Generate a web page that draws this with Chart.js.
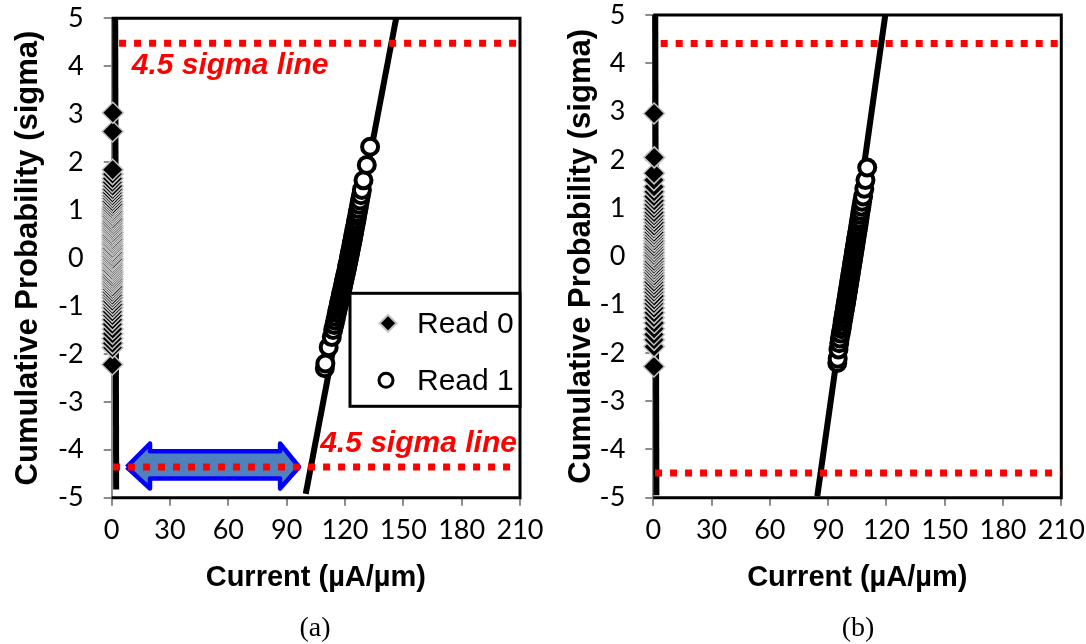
<!DOCTYPE html>
<html><head><meta charset="utf-8">
<script src="https://cdn.jsdelivr.net/npm/chart.js@4/dist/chart.umd.min.js"></script>
<style>
html,body{margin:0;padding:0;background:#fff;}
#wrap{position:relative;width:1086px;height:644px;overflow:hidden;background:#fff;}
canvas{position:absolute;top:0;}
#ca{left:0px;} #cb{left:543px;}
.cap{position:absolute;font-family:"Liberation Serif","Times New Roman",serif;font-size:28px;color:#000;transform:translateX(-50%);line-height:32px;}
</style></head>
<body><div id="wrap">
<canvas id="ca" width="543" height="644"></canvas>
<canvas id="cb" width="543" height="644"></canvas>
<div class="cap" style="left:315px;top:611px">(a)</div>
<div class="cap" style="left:858px;top:611px">(b)</div>
</div>
<script>
// ---------- tick labels ----------
const xTicks = [0, 30, 60, 90, 120, 150, 180, 210];
const yTicks = [-5, -4, -3, -2, -1, 0, 1, 2, 3, 4, 5];

// ---------- panel (a) ----------
const read0SigmaA = [-2.22, -1.87, -1.78, -1.68, -1.58, -1.48, -1.38, -1.29, -1.20, -1.12,
  -1.04, -0.97, -0.90, -0.83, -0.77, -0.71, -0.65, -0.60, -0.54, -0.49,
  -0.44, -0.39, -0.34, -0.29, -0.25, -0.20, -0.15, -0.11, -0.06, -0.02,
  0.03, 0.08, 0.12, 0.17, 0.21, 0.26, 0.30, 0.35, 0.39, 0.44,
  0.48, 0.53, 0.58, 0.62, 0.67, 0.72, 0.77, 0.82, 0.87, 0.92,
  0.97, 1.02, 1.07, 1.12, 1.18, 1.24, 1.30, 1.36, 1.43, 1.50,
  1.58, 1.66, 1.75, 1.84, 2.64, 3.03];
const read0CurrentA = [0.3, 0.4, 0.4, 0.3, 0.4, 0.5, 0.3, 0.4, 0.4, 0.3,
  0.4, 0.5, 0.3, 0.4, 0.4, 0.3, 0.4, 0.5, 0.3, 0.4,
  0.4, 0.3, 0.4, 0.5, 0.3, 0.4, 0.4, 0.3, 0.4, 0.5,
  0.3, 0.4, 0.4, 0.3, 0.4, 0.5, 0.3, 0.4, 0.4, 0.3,
  0.4, 0.5, 0.3, 0.4, 0.4, 0.3, 0.4, 0.5, 0.3, 0.4,
  0.4, 0.3, 0.4, 0.5, 0.3, 0.4, 0.4, 0.3, 0.4, 0.5,
  0.3, 0.4, 0.4, 0.5, 0.5, 0.6];
const read1SigmaA = [-2.30, -2.20, -1.86, -1.65, -1.50, -1.40, -1.31, -1.23, -1.15, -1.08,
  -1.01, -0.95, -0.89, -0.83, -0.77, -0.72, -0.67, -0.62, -0.57, -0.52,
  -0.47, -0.42, -0.37, -0.32, -0.28, -0.23, -0.18, -0.14, -0.09, -0.05,
  0.00, 0.05, 0.09, 0.14, 0.18, 0.23, 0.28, 0.32, 0.37, 0.42,
  0.47, 0.52, 0.57, 0.62, 0.68, 0.74, 0.80, 0.87, 0.94, 1.02,
  1.11, 1.20, 1.31, 1.42, 1.62, 1.94, 2.32];
const read1CurrentA = [109.6, 109.9, 111.6, 113.2, 113.9, 114.5, 115.0, 115.4, 115.8, 116.2,
  116.6, 116.9, 117.3, 117.6, 117.9, 118.2, 118.5, 118.8, 119.0, 119.3,
  119.6, 119.8, 120.1, 120.4, 120.6, 120.9, 121.1, 121.3, 121.6, 121.8,
  122.0, 122.3, 122.5, 122.7, 122.9, 123.2, 123.4, 123.6, 123.9, 124.1,
  124.3, 124.6, 124.8, 125.0, 125.3, 125.6, 125.9, 126.2, 126.5, 126.9,
  127.3, 127.7, 128.2, 128.7, 129.5, 131.2, 132.9];
const fit0CurrentA = [2.3, 1.8];
const fit0SigmaA = [-4.83, 5];
const fit1CurrentA = [99.8, 146.3];
const fit1SigmaA = [-4.92, 5];
const sigmaHiCurrentA = [3.8, 209];
const sigmaHiA = [4.48, 4.48];
const sigmaLoCurrentA = [0.7, 209];
const sigmaLoA = [-4.36, -4.36];
// double arrow (annotation), in data units
const arrowCurrentA = [7.7, 19.7, 19.7, 86.6, 86.6, 96.4, 86.6, 86.6, 19.7, 19.7, 7.7];
const arrowSigmaA = [-4.36, -3.87, -4.03, -4.03, -3.87, -4.36, -4.81, -4.60, -4.60, -4.81, -4.36];
const labelTextA = ['4.5 sigma line', '4.5 sigma line'];
const labelCurrentA = [10.3, 107.2];
const labelSigmaA = [3.84, -4.05];
const legendNames = ['Read 0', 'Read 1'];

// ---------- panel (b) ----------
const read0SigmaB = [-2.28, -1.87, -1.73, -1.62, -1.50, -1.38, -1.27, -1.17, -1.07, -0.98,
  -0.90, -0.82, -0.74, -0.67, -0.60, -0.53, -0.46, -0.40, -0.34, -0.28,
  -0.22, -0.16, -0.10, -0.04, 0.02, 0.08, 0.14, 0.20, 0.26, 0.32,
  0.38, 0.44, 0.50, 0.57, 0.63, 0.70, 0.77, 0.84, 0.91, 0.99,
  1.07, 1.15, 1.24, 1.34, 1.44, 1.58, 1.72, 2.05, 2.96];
const read0CurrentB = [0.3, 0.4, 0.4, 0.3, 0.4, 0.5, 0.3, 0.4, 0.4, 0.3,
  0.4, 0.5, 0.3, 0.4, 0.4, 0.3, 0.4, 0.5, 0.3, 0.4,
  0.4, 0.3, 0.4, 0.5, 0.3, 0.4, 0.4, 0.3, 0.4, 0.5,
  0.3, 0.4, 0.4, 0.3, 0.4, 0.5, 0.3, 0.4, 0.4, 0.3,
  0.4, 0.5, 0.3, 0.4, 0.4, 0.3, 0.4, 0.5, 0.4];
const read1SigmaB = [-2.21, -2.12, -1.93, -1.80, -1.70, -1.60, -1.51, -1.43, -1.35, -1.28,
  -1.21, -1.14, -1.08, -1.02, -0.96, -0.90, -0.85, -0.80, -0.75, -0.70,
  -0.65, -0.60, -0.55, -0.50, -0.45, -0.40, -0.35, -0.30, -0.25, -0.20,
  -0.15, -0.10, -0.05, 0.00, 0.05, 0.10, 0.15, 0.20, 0.25, 0.30,
  0.35, 0.40, 0.46, 0.52, 0.58, 0.64, 0.71, 0.78, 0.86, 0.94,
  1.03, 1.13, 1.24, 1.40, 1.58, 1.84];
const read1CurrentB = [94.7, 94.9, 95.3, 95.7, 96.0, 96.5, 96.9, 97.2, 97.5, 97.8,
  98.1, 98.4, 98.7, 98.9, 99.2, 99.4, 99.6, 99.8, 100.0, 100.2,
  100.4, 100.6, 100.8, 101.0, 101.2, 101.4, 101.6, 101.8, 102.0, 102.2,
  102.4, 102.6, 102.8, 103.0, 103.2, 103.4, 103.6, 103.8, 104.0, 104.2,
  104.4, 104.6, 104.8, 105.1, 105.3, 105.6, 105.8, 106.1, 106.4, 106.7,
  107.1, 107.5, 108.0, 108.6, 109.2, 110.1];
const fit0CurrentB = [1.6, 1.0];
const fit0SigmaB = [-4.95, 5];
const fit1CurrentB = [84.4, 119.4];
const fit1SigmaB = [-4.97, 5];
const sigmaHiCurrentB = [3.8, 209.5];
const sigmaHiB = [4.41, 4.41];
const sigmaLoCurrentB = [0.9, 209.5];
const sigmaLoB = [-4.49, -4.49];

// ---------- helpers ----------
function pts(xs, ys) { return xs.map((x, i) => ({ x: x, y: ys[i] })); }

const TICK_FONT = { family: 'Lato, "Open Sans", sans-serif', size: 27 };
const GRAY = '#8c8c8c';

function noPad(s) { s.paddingLeft = 0; s.paddingRight = 0; s.paddingTop = 0; s.paddingBottom = 0; }

const framePlugin = {
  id: 'frame',
  beforeDatasetsDraw(chart) {
    const { ctx, chartArea: a } = chart;
    ctx.save();
    ctx.strokeStyle = '#000';
    ctx.lineWidth = 3;
    ctx.beginPath();
    ctx.moveTo(a.left, a.top);
    ctx.lineTo(a.right, a.top);
    ctx.lineTo(a.right, a.bottom);
    ctx.lineTo(a.left, a.bottom);
    ctx.stroke();
    ctx.restore();
  }
};

const annotPlugin = {
  id: 'annot',
  afterDatasetsDraw(chart, args, opts) {
    const { ctx, chartArea: a } = chart;
    const xs = chart.scales.x, ys = chart.scales.y;
    ctx.save();
    if (opts.labels) {
      ctx.font = 'italic bold 30px "Liberation Sans", Arial, sans-serif';
      ctx.fillStyle = '#ff0000';
      ctx.textAlign = 'left';
      ctx.textBaseline = 'alphabetic';
      opts.labels.text.forEach((t, i) => {
        ctx.fillText(t, xs.getPixelForValue(opts.labels.x[i]), ys.getPixelForValue(opts.labels.y[i]));
      });
    }
    if (opts.legend) {
      const right = a.right, top = a.top + 275, w = 170, h = 113;
      ctx.fillStyle = '#fff';
      ctx.fillRect(right - w, top, w, h);
      ctx.strokeStyle = '#000';
      ctx.lineWidth = 3;
      ctx.strokeRect(right - w, top, w, h);
      const d0 = chart.data.datasets[0], d1 = chart.data.datasets[1];
      const mx = right - w + 38, my0 = top + 30, my1 = top + 87;
      ctx.beginPath();
      ctx.moveTo(mx - 8.5, my0); ctx.lineTo(mx, my0 - 8.5); ctx.lineTo(mx + 8.5, my0); ctx.lineTo(mx, my0 + 8.5); ctx.closePath();
      ctx.fillStyle = d0.pointBackgroundColor; ctx.fill();
      ctx.lineWidth = 2; ctx.strokeStyle = d0.pointBorderColor; ctx.stroke();
      ctx.beginPath();
      ctx.arc(mx - 2, my1, 7, 0, Math.PI * 2);
      ctx.fillStyle = d1.pointBackgroundColor; ctx.fill();
      ctx.lineWidth = 3; ctx.strokeStyle = d1.pointBorderColor; ctx.stroke();
      ctx.font = '30px "Liberation Sans", Arial, sans-serif';
      ctx.fillStyle = '#000';
      ctx.textAlign = 'left';
      ctx.textBaseline = 'middle';
      ctx.fillText(opts.legend[0], right - w + 67, my0 + 1);
      ctx.fillText(opts.legend[1], right - w + 67, my1 + 1);
    }
    ctx.restore();
  }
};

function makeChart(id, o) {
  const datasets = [
    { label: 'Read 0', data: pts(o.r0x, o.r0y), showLine: false, pointStyle: 'rectRot', pointRadius: 10.5,
      pointBackgroundColor: '#000', pointBorderColor: '#c4c4c4', pointBorderWidth: 1.5, order: 1, clip: false },
    { label: 'Read 1', data: pts(o.r1x, o.r1y), showLine: false, pointStyle: 'circle', pointRadius: 8,
      pointBackgroundColor: '#fff', pointBorderColor: '#000', pointBorderWidth: 4, order: 2, clip: false },
    { label: 'fit0', data: pts(o.f0x, o.f0y), showLine: true, borderColor: '#000', borderWidth: 6,
      pointRadius: 0, order: 6, clip: false, fill: false },
    { label: 'fit1', data: pts(o.f1x, o.f1y), showLine: true, borderColor: '#000', borderWidth: 6,
      pointRadius: 0, order: 6, clip: false, fill: false },
    { label: 'hi', data: pts(o.sHx, o.sHy), showLine: true, borderColor: '#ff0000', borderWidth: 7,
      borderDash: [7, 8], borderCapStyle: 'butt', pointRadius: 0, order: 5, clip: false, fill: false },
    { label: 'lo', data: pts(o.sLx, o.sLy), showLine: true, borderColor: '#ff0000', borderWidth: 7,
      borderDash: [7, 8], borderCapStyle: 'butt', pointRadius: 0, order: 5, clip: false, fill: false }
  ];
  if (o.ax) {
    datasets.push({ label: 'arrow', data: pts(o.ax, o.ay), showLine: true, fill: 'shape',
      backgroundColor: '#4f81bd', borderColor: '#0000ff', borderWidth: 4.5, borderJoinStyle: 'round',
      pointRadius: 0, order: 10, clip: false, tension: 0 });
  }
  return new Chart(document.getElementById(id), {
    type: 'line',
    data: { datasets: datasets },
    options: {
      responsive: false,
      animation: false,
      devicePixelRatio: 1,
      events: [],
      layout: { padding: { left: 0, top: o.top, right: o.padRight, bottom: 0 } },
      elements: { line: { tension: 0 } },
      plugins: {
        legend: { display: false },
        tooltip: { enabled: false },
        annot: { labels: o.labels, legend: o.legend }
      },
      scales: {
        x: {
          type: 'linear', min: 0, max: 210,
          afterBuildTicks: s => { s.ticks = xTicks.map(v => ({ value: v })); },
          afterFit: s => { s.height = 644 - 497.7; noPad(s); },
          ticks: { font: TICK_FONT, color: '#000', padding: 8, maxRotation: 0, autoSkip: false,
            callback: v => String(v) },
          grid: { display: true, drawOnChartArea: false, drawTicks: true, tickLength: 8,
            tickColor: GRAY, tickWidth: 2, color: GRAY, lineWidth: 2 },
          border: { display: true, color: GRAY, width: 2 },
          title: { display: true, text: 'Current (µA/µm)', color: '#000',
            font: { family: '"Liberation Sans", Arial, sans-serif', size: 29, weight: 'bold' },
            padding: { top: 0, bottom: 49 } }
        },
        y: {
          type: 'linear', min: -5, max: 5,
          afterBuildTicks: s => { s.ticks = yTicks.map(v => ({ value: v })); },
          afterFit: s => { s.width = o.yWidth; noPad(s); },
          ticks: { font: TICK_FONT, color: '#000', padding: 20, autoSkip: false,
            callback: v => String(v) },
          grid: { display: true, drawOnChartArea: false, drawTicks: true, tickLength: 8,
            tickColor: GRAY, tickWidth: 2, color: GRAY, lineWidth: 2 },
          border: { display: true, color: GRAY, width: 2 },
          title: { display: true, text: 'Cumulative Probability (sigma)', color: '#000',
            font: { family: '"Liberation Sans", Arial, sans-serif', size: 31, weight: 'bold' },
            padding: { top: o.titlePad, bottom: 0 } }
        }
      }
    },
    plugins: [framePlugin, annotPlugin]
  });
}

makeChart('ca', {
  r0x: read0CurrentA, r0y: read0SigmaA, r1x: read1CurrentA, r1y: read1SigmaA,
  f0x: fit0CurrentA, f0y: fit0SigmaA, f1x: fit1CurrentA, f1y: fit1SigmaA,
  sHx: sigmaHiCurrentA, sHy: sigmaHiA, sLx: sigmaLoCurrentA, sLy: sigmaLoA,
  ax: arrowCurrentA, ay: arrowSigmaA,
  labels: { text: labelTextA, x: labelCurrentA, y: labelSigmaA },
  legend: legendNames,
  top: 18.3, padRight: 23, yWidth: 111.7, titlePad: 10
});
makeChart('cb', {
  r0x: read0CurrentB, r0y: read0SigmaB, r1x: read1CurrentB, r1y: read1SigmaB,
  f0x: fit0CurrentB, f0y: fit0SigmaB, f1x: fit1CurrentB, f1y: fit1SigmaB,
  sHx: sigmaHiCurrentB, sHy: sigmaHiB, sLx: sigmaLoCurrentB, sLy: sigmaLoB,
  labels: null, legend: null,
  top: 15, padRight: 24.7, yWidth: 110.3, titlePad: 20
});
</script>
</body></html>
